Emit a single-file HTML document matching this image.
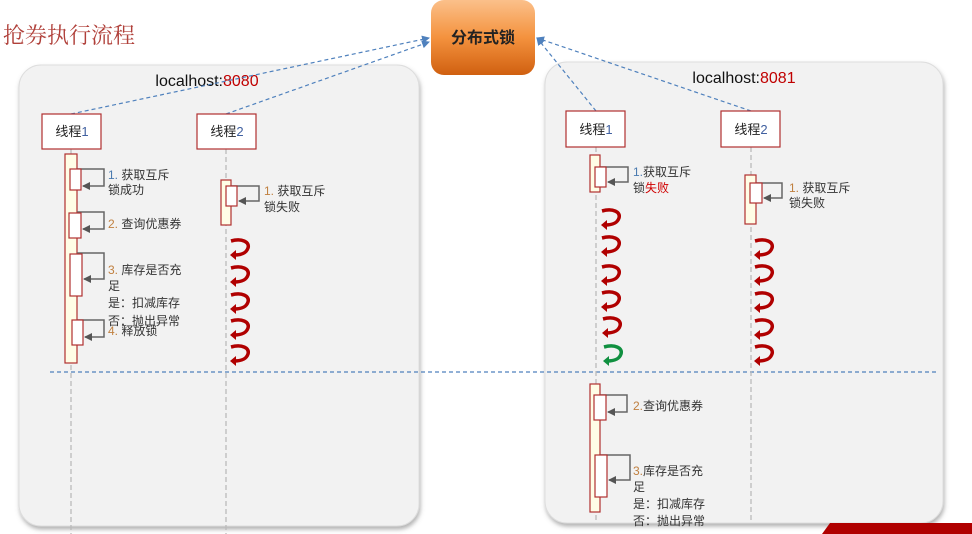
<!DOCTYPE html>
<html><head><meta charset="utf-8"><style>
html,body{margin:0;padding:0;background:#fff;width:972px;height:534px;overflow:hidden}
svg{display:block;font-family:"Liberation Sans","Noto Sans CJK SC",sans-serif}
</style></head><body>
<svg width="972" height="534" viewBox="0 0 972 534" xmlns="http://www.w3.org/2000/svg">
<defs>
<linearGradient id="og" x1="0" y1="0" x2="0" y2="1"><stop offset="0" stop-color="#fbc08a"/><stop offset="0.5" stop-color="#f4923e"/><stop offset="1" stop-color="#d06010"/></linearGradient>
<filter id="sh" x="-5%" y="-5%" width="110%" height="110%"><feDropShadow dx="1" dy="3" stdDeviation="2" flood-color="#666" flood-opacity="0.5"/></filter>
<marker id="ar" markerWidth="8" markerHeight="8" refX="7" refY="4" orient="auto" markerUnits="userSpaceOnUse"><path d="M0,0 L8,4 L0,8 z" fill="#4f81bd"/></marker>
<marker id="ga" markerWidth="8" markerHeight="8" refX="7" refY="4" orient="auto" markerUnits="userSpaceOnUse"><path d="M0,0 L8,4 L0,8 z" fill="#555"/></marker>
<g id="curl"><path d="M1,2 C12,-1 20,3 18,9 C16,15 10,16 4,16" fill="none" stroke="#b00000" stroke-width="3.5"/><path d="M0,16 L6,11 L6,21 z" fill="#b00000"/></g>
<g id="curlg"><path d="M1,2 C12,-1 20,3 18,9 C16,15 10,16 4,16" fill="none" stroke="#109040" stroke-width="3.5"/><path d="M0,16 L6,11 L6,21 z" fill="#109040"/></g>
</defs>

<text x="3" y="43" font-size="22" fill="#b0403a" font-family="'Liberation Serif','Noto Serif CJK SC',serif">抢券执行流程</text>

<rect x="19" y="65" width="400" height="461" rx="22" fill="#f2f2f2" stroke="#ddd" filter="url(#sh)"/>
<rect x="545" y="62" width="398" height="461" rx="22" fill="#f2f2f2" stroke="#ddd" filter="url(#sh)"/>
<text x="207" y="86" font-size="16" text-anchor="middle" fill="#111">localhost:<tspan fill="#c00000">8080</tspan></text>
<text x="744" y="83" font-size="16" text-anchor="middle" fill="#111">localhost:<tspan fill="#c00000">8081</tspan></text>

<rect x="431" y="0" width="104" height="75" rx="13" fill="url(#og)"/>
<text x="483" y="43" font-size="16" font-weight="bold" text-anchor="middle" fill="#222">分布式锁</text>

<g stroke="#4f81bd" stroke-width="1.2" stroke-dasharray="4,3" fill="none">
<line x1="71" y1="114" x2="429" y2="38" marker-end="url(#ar)"/>
<line x1="226" y1="114" x2="429" y2="42" marker-end="url(#ar)"/>
<line x1="596" y1="111" x2="537" y2="38" marker-end="url(#ar)"/>
<line x1="751" y1="111" x2="537" y2="38" marker-end="url(#ar)"/>
<line x1="50" y1="372" x2="937" y2="372"/>
</g>

<g stroke="#bbb" stroke-width="1.3" stroke-dasharray="5,3">
<line x1="71" y1="149" x2="71" y2="534"/>
<line x1="226" y1="149" x2="226" y2="534"/>
<line x1="596" y1="147" x2="596" y2="520"/>
<line x1="751" y1="147" x2="751" y2="520"/>
</g>

<g fill="#fff" stroke="#b03030" stroke-width="1.2">
<rect x="42" y="114" width="59" height="35"/><rect x="197" y="114" width="59" height="35"/>
<rect x="566" y="111" width="59" height="36"/><rect x="721" y="111" width="59" height="36"/>
</g>
<g font-size="13" text-anchor="middle" fill="#222">
<text x="72" y="136">线程<tspan fill="#4060a0">1</tspan></text><text x="227" y="136">线程<tspan fill="#4060a0">2</tspan></text>
<text x="596" y="134">线程<tspan fill="#4060a0">1</tspan></text><text x="751" y="134">线程<tspan fill="#4060a0">2</tspan></text>
</g>

<g fill="#fffde6" stroke="#b03030" stroke-width="1.2">
<rect x="65" y="154" width="12" height="209"/>
<rect x="221" y="180" width="10" height="45"/>
<rect x="590" y="155" width="10" height="37"/>
<rect x="745" y="175" width="11" height="49"/>
<rect x="590" y="384" width="10" height="128"/>
</g>
<g fill="none" stroke="#666" stroke-width="1.5" marker-end="url(#ga)">
<path d="M77,169 H104 V186 H83"/>
<path d="M77,212 H104 V229 H83"/>
<path d="M77,253 H104 V279 H84"/>
<path d="M77,320 H104 V337 H85"/>
<path d="M231,186 H259 V201 H239"/>
<path d="M600,167 H628 V182 H608"/>
<path d="M756,183 H782 V198 H764"/>
<path d="M600,395 H627 V412 H608"/>
<path d="M600,455 H630 V480 H609"/>
</g>
<g fill="#fff" stroke="#b03030" stroke-width="1.2">
<rect x="70" y="169" width="11" height="21"/>
<rect x="69" y="213" width="12" height="25"/>
<rect x="70" y="254" width="12" height="42"/>
<rect x="72" y="320" width="11" height="25"/>
<rect x="226" y="186" width="11" height="20"/>
<rect x="595" y="167" width="11" height="20"/>
<rect x="750" y="183" width="12" height="20"/>
<rect x="594" y="395" width="12" height="25"/>
<rect x="595" y="455" width="12" height="42"/>
</g>

<g font-size="12" fill="#333">
<text x="108" y="179"><tspan fill="#4a7ab0">1.</tspan> 获取互斥</text><text x="108" y="194">锁成功</text>
<text x="108" y="228"><tspan fill="#c08040">2.</tspan> 查询优惠券</text>
<text x="108" y="274"><tspan fill="#c08040">3.</tspan> 库存是否充</text><text x="108" y="290">足</text>
<text x="108" y="307">是：扣减库存</text><text x="108" y="325">否：抛出异常</text>
<text x="108" y="335"><tspan fill="#c08040">4.</tspan> 释放锁</text>
<text x="264" y="195"><tspan fill="#c08040">1.</tspan> 获取互斥</text><text x="264" y="211">锁失败</text>
<text x="633" y="176"><tspan fill="#4a7ab0">1.</tspan>获取互斥</text><text x="633" y="192">锁<tspan fill="#d00000">失败</tspan></text>
<text x="789" y="192"><tspan fill="#c08040">1.</tspan> 获取互斥</text><text x="789" y="207">锁失败</text>
<text x="633" y="410"><tspan fill="#c08040">2.</tspan>查询优惠券</text>
<text x="633" y="475"><tspan fill="#c08040">3.</tspan>库存是否充</text><text x="633" y="491">足</text>
<text x="633" y="508">是：扣减库存</text><text x="633" y="525">否：抛出异常</text>
</g>

<use href="#curl" x="230" y="239"/><use href="#curl" x="230" y="266"/><use href="#curl" x="230" y="293"/><use href="#curl" x="230" y="319"/><use href="#curl" x="230" y="345"/>
<use href="#curl" x="601" y="209"/><use href="#curl" x="601" y="236"/><use href="#curl" x="601" y="265"/><use href="#curl" x="601" y="291"/><use href="#curl" x="602" y="317"/><use href="#curlg" x="603" y="345"/>
<use href="#curl" x="754" y="239"/><use href="#curl" x="754" y="265"/><use href="#curl" x="754" y="292"/><use href="#curl" x="754" y="319"/><use href="#curl" x="754" y="345"/>

<path d="M822,534 L830,523 L972,523 L972,534 z" fill="#b00000"/>
</svg>
</body></html>
